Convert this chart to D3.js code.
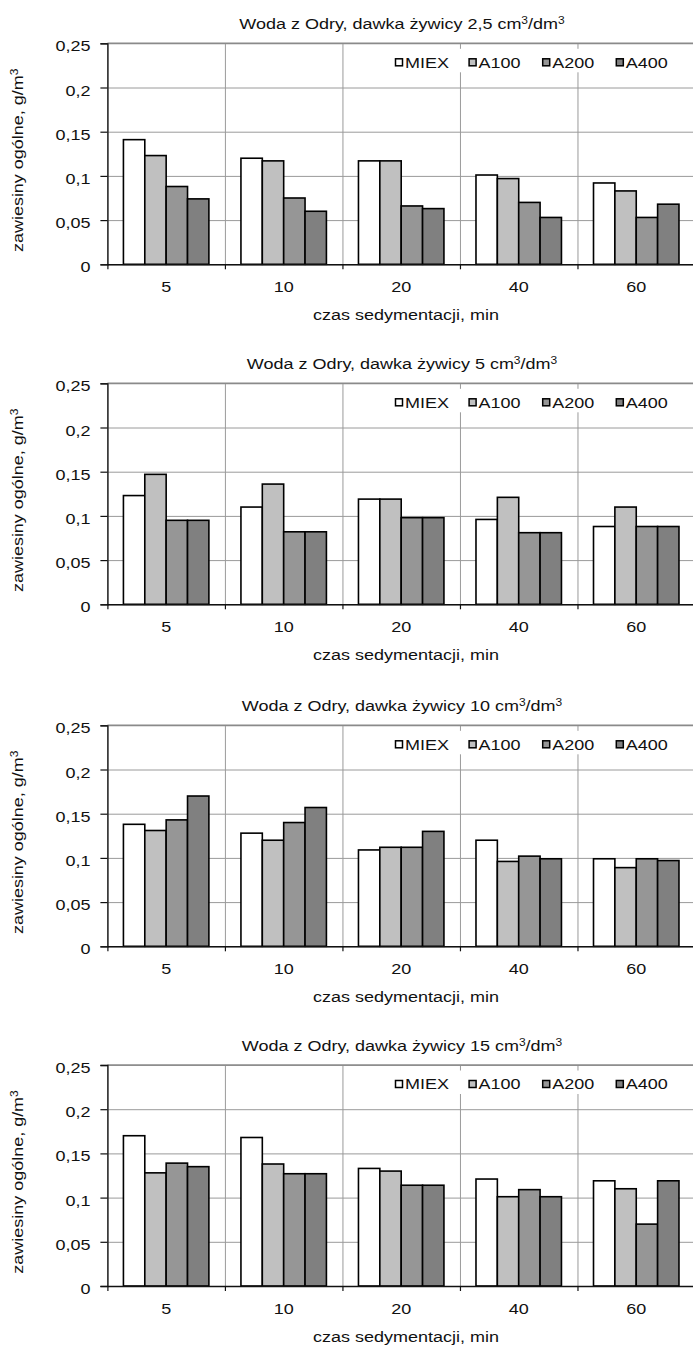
<!DOCTYPE html>
<html>
<head>
<meta charset="utf-8">
<script src="https://cdn.jsdelivr.net/npm/d3@7"></script>
<style>
  body { margin: 0; background: #fff; }
  svg text { font-family: "Liberation Sans", Arial, sans-serif; font-size: 15px; fill: #111; }
</style>
</head>
<body>
<script>

// categories on the x axis (sedimentation time, min)
var times = ["5", "10", "20", "40", "60"];

// the four resins
var resins = ["MIEX", "A100", "A200", "A400"];

// resin dose per panel
var doses = ["2,5", "5", "10", "15"];

// y tick labels
var yTicks = [0, 0.05, 0.1, 0.15, 0.2, 0.25];
var yTickLabels = ["0", "0,05", "0,1", "0,15", "0,2", "0,25"];

// values, one row per resin (MIEX, A100, A200, A400), one column per time
var dose25 = [
  [0.141, 0.120, 0.117, 0.101, 0.092],
  [0.123, 0.117, 0.117, 0.097, 0.083],
  [0.088, 0.075, 0.066, 0.070, 0.053],
  [0.074, 0.060, 0.063, 0.053, 0.068]
];
var dose5 = [
  [0.123, 0.110, 0.119, 0.096, 0.088],
  [0.147, 0.136, 0.119, 0.121, 0.110],
  [0.095, 0.082, 0.098, 0.081, 0.088],
  [0.095, 0.082, 0.098, 0.081, 0.088]
];
var dose10 = [
  [0.138, 0.128, 0.109, 0.120, 0.099],
  [0.131, 0.120, 0.112, 0.096, 0.089],
  [0.143, 0.140, 0.112, 0.102, 0.099],
  [0.170, 0.157, 0.130, 0.099, 0.097]
];
var dose15 = [
  [0.170, 0.168, 0.133, 0.121, 0.119],
  [0.128, 0.138, 0.130, 0.101, 0.110],
  [0.139, 0.127, 0.114, 0.109, 0.070],
  [0.135, 0.127, 0.114, 0.101, 0.119]
];
var panels = [dose25, dose5, dose10, dose15];

// greys like the old excel palette
var fills = ["#ffffff", "#c0c0c0", "#969696", "#808080"];

var w = 693;
var h = 1346;
var left = 107.4;
var right = 695;
var plotH = 221;
var tops = [43.3, 383.3, 725.3, 1065];
var stretch = "scale(1.2,1)";   // text in the picture is a bit wider than arial

var svg = d3.select("body")
            .append("svg")
            .attr("width", w)
            .attr("height", h);

// x scales shared by all panels
var x0 = d3.scaleBand()
           .domain(times)
           .range([left, right])
           .paddingInner(0)
           .paddingOuter(0);

var x1 = d3.scaleBand()
           .domain(resins)
           .range([0, x0.bandwidth()])
           .paddingInner(0)
           .paddingOuter(0.75);

// linear scale for the category boundaries (ticks + vertical grid)
var xb = d3.scaleLinear()
           .domain([0, times.length])
           .range([left, right]);

var color = d3.scaleOrdinal()
              .domain(resins)
              .range(fills);

panels.forEach(function(vals, p) {

  var top = tops[p];
  var g = svg.append("g").attr("transform", "translate(0," + top + ")");

  var y = d3.scaleLinear()
            .domain([0, 0.25])
            .range([plotH, 0]);

  // horizontal gridlines
  g.append("g")
   .attr("class", "hgrid")
   .attr("transform", "translate(" + left + ",0)")
   .call(d3.axisLeft(y).tickValues(yTicks).tickSize(-(right - left)).tickFormat(""))
   .call(function(s) {
     s.select(".domain").remove();
     s.selectAll("line").attr("stroke", "#9a9a9a").attr("stroke-width", 1);
   });

  // vertical gridlines on category boundaries
  g.append("g")
   .attr("transform", "translate(0," + plotH + ")")
   .call(d3.axisBottom(xb).ticks(times.length).tickSize(plotH).tickFormat(""))
   .call(function(s) {
     s.select(".domain").remove();
     s.selectAll(".tick line").attr("y2", -plotH).attr("stroke", "#9a9a9a").attr("stroke-width", 1);
   });

  // top border a bit heavier
  g.append("line")
   .attr("x1", left).attr("x2", right)
   .attr("y1", y(0.25)).attr("y2", y(0.25))
   .attr("stroke", "#8a8a8a")
   .attr("stroke-width", 1.6);

  // white legend box hides the gridlines behind it
  g.append("rect")
   .attr("x", 385)
   .attr("y", 5.5)
   .attr("width", right - 385)
   .attr("height", 23.5)
   .attr("fill", "#fff");

  // bars
  var groups = g.selectAll(".grp")
    .data(times)
    .enter()
    .append("g")
    .attr("class", "grp")
    .attr("transform", function(t) { return "translate(" + x0(t) + ",0)"; });

  groups.selectAll("rect")
    .data(function(t, i) {
      return resins.map(function(r, k) { return {resin: r, value: vals[k][i]}; });
    })
    .enter()
    .append("rect")
    .attr("x", function(d) { return x1(d.resin); })
    .attr("y", function(d) { return y(d.value); })
    .attr("width", x1.bandwidth())
    .attr("height", function(d) { return plotH - y(d.value); })
    .attr("fill", function(d) { return color(d.resin); })
    .attr("stroke", "#000")
    .attr("stroke-width", 1.6);

  // y axis
  g.append("g")
   .attr("transform", "translate(" + left + ",0)")
   .call(d3.axisLeft(y).tickValues(yTicks).tickSize(7)
          .tickFormat(function(d, i) { return yTickLabels[i]; }))
   .call(function(s) {
     s.select(".domain").attr("stroke", "#111").attr("stroke-width", 1.3);
     s.selectAll(".tick line").attr("stroke", "#111").attr("stroke-width", 1.2);
     s.selectAll(".tick text")
      .attr("x", null)
      .attr("dy", "0.5em")
      .attr("transform", "translate(-17,0) " + stretch)
      .style("font-size", "15px")
      .style("font-family", null);
   });

  // x axis: boundary ticks
  g.append("g")
   .attr("transform", "translate(0," + plotH + ")")
   .call(d3.axisBottom(xb).ticks(times.length).tickSize(5).tickSizeOuter(0).tickFormat(""))
   .call(function(s) {
     s.select(".domain").attr("stroke", "#111").attr("stroke-width", 1.6);
     s.selectAll(".tick line").attr("stroke", "#111").attr("stroke-width", 1.2);
   });

  // x axis: category labels
  g.append("g")
   .attr("transform", "translate(0," + plotH + ")")
   .call(d3.axisBottom(x0).tickSize(0))
   .call(function(s) {
     s.select(".domain").remove();
     s.selectAll(".tick text")
      .attr("y", null)
      .attr("dy", null)
      .attr("transform", "translate(0,27.5) " + stretch)
      .style("font-size", "15px")
      .style("font-family", null);
   });

  // title with superscripts
  var title = g.append("text")
    .attr("text-anchor", "middle")
    .attr("transform", "translate(402," + (-14) + ") " + stretch);
  title.append("tspan").text("Woda z Odry, dawka żywicy " + doses[p] + " cm");
  title.append("tspan").attr("dy", -5).style("font-size", "10px").text("3");
  title.append("tspan").attr("dy", 5).text("/dm");
  title.append("tspan").attr("dy", -5).style("font-size", "10px").text("3");

  // x axis title
  g.append("text")
   .attr("text-anchor", "middle")
   .attr("transform", "translate(406," + (plotH + 55.5) + ") " + stretch)
   .text("czas sedymentacji, min");

  // y axis title
  var ylab = g.append("text")
    .attr("text-anchor", "middle")
    .attr("transform", "translate(23," + 117 + ") rotate(-90) " + stretch);
  ylab.append("tspan").text("zawiesiny ogólne,  g/m");
  ylab.append("tspan").attr("dy", -5).style("font-size", "10px").text("3");

  // legend
  var leg = g.selectAll(".leg")
    .data(resins)
    .enter()
    .append("g")
    .attr("class", "leg")
    .attr("transform", function(d, i) { return "translate(" + (395 + i * 73.6) + ",19)"; });

  leg.append("rect")
     .attr("x", 0.5)
     .attr("y", -3.5)
     .attr("width", 7)
     .attr("height", 7)
     .attr("fill", function(d) { return color(d); })
     .attr("stroke", "#000")
     .attr("stroke-width", 1.5);

  leg.append("text")
     .attr("transform", "translate(10,5.3) " + stretch)
     .text(function(d) { return d; });

});

</script>
</body>
</html>
